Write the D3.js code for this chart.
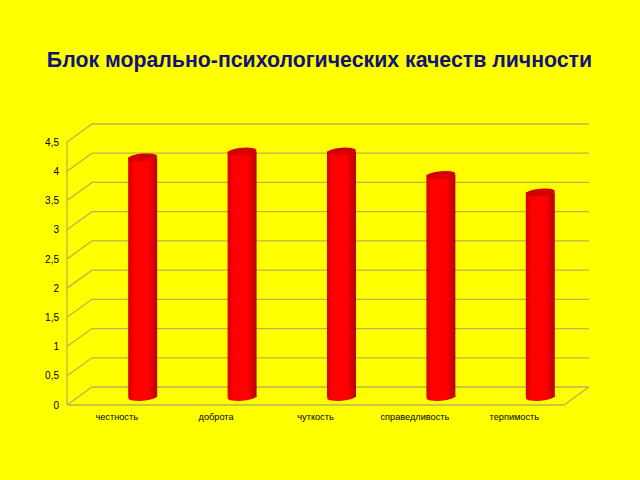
<!DOCTYPE html>
<html>
<head>
<meta charset="utf-8">
<script src="https://cdnjs.cloudflare.com/ajax/libs/d3/7.8.5/d3.min.js"></script>
<style>
html, body { margin: 0; padding: 0; background: #ffff00; }
svg { display: block; }
text { font-family: "Liberation Sans", Arial, sans-serif; }
</style>
</head>
<body>
<svg width="640" height="480"></svg>
<script>
var titleText = "Блок морально-психологических качеств личности";
var categories = ["честность", "доброта", "чуткость", "справедливость", "терпимость"];
var values = [4.1, 4.2, 4.2, 3.8, 3.5];
var yTicks = [0, 0.5, 1, 1.5, 2, 2.5, 3, 3.5, 4, 4.5];

var svg = d3.select("svg");

// 3d box: back wall is shifted from the front edge
var depthX = 25, depthY = -18;
var barShiftX = 26, barShiftY = -8;
var barWidth = 29, capRy = 3.8;

var xScale = d3.scaleBand().domain(categories).range([67, 564]);
var yScale = d3.scaleLinear().domain([0, 4.5]).range([405, 142]);

var gridColor = "#b9b54c";

// background
svg.append("rect").attr("width", 640).attr("height", 480).attr("fill", "#ffff00");

// gradient for the cylinders
var defs = svg.append("defs");
var grad = defs.append("linearGradient").attr("id", "cyl");
grad.append("stop").attr("offset", "0%").attr("stop-color", "#d60000");
grad.append("stop").attr("offset", "22%").attr("stop-color", "#ff0000");
grad.append("stop").attr("offset", "68%").attr("stop-color", "#ff0000");
grad.append("stop").attr("offset", "100%").attr("stop-color", "#b80000");

// title
svg.append("text")
    .attr("x", 319.5)
    .attr("y", 67)
    .attr("text-anchor", "middle")
    .attr("font-size", 21.3)
    .attr("font-weight", "bold")
    .attr("fill", "#12127a")
    .text(titleText);

var g = svg.append("g");

// gridlines: side wall + back wall
yTicks.forEach(function(t) {
    var y = yScale(t);
    var x0 = xScale.range()[0], x1 = xScale.range()[1];
    g.append("path")
        .attr("fill", "none")
        .attr("stroke", gridColor)
        .attr("stroke-width", 1.3)
        .attr("d", "M" + x0 + "," + y + "L" + (x0 + depthX) + "," + (y + depthY) + "L" + (x1 + depthX) + "," + (y + depthY));
});

// left edge of the side wall, and the floor
g.append("path")
    .attr("fill", "none")
    .attr("stroke", gridColor)
    .attr("stroke-width", 1.3)
    .attr("d", "M67," + yScale(0) + "L67," + yScale(4.5));
g.append("path")
    .attr("fill", "none")
    .attr("stroke", gridColor)
    .attr("stroke-width", 1.3)
    .attr("d", "M67," + yScale(0) + "L564," + yScale(0) + "L" + (564 + depthX) + "," + (yScale(0) + depthY));

// axes
var yAxis = svg.append("g")
    .attr("transform", "translate(67,0)")
    .call(d3.axisLeft(yScale).tickValues(yTicks).tickSize(0).tickPadding(8)
        .tickFormat(function(d) { return String(d).replace(".", ","); }));
yAxis.select(".domain").remove();
yAxis.selectAll("text").attr("font-size", 10).attr("fill", "#000");
yAxis.selectAll("text").style("font-family", '"Liberation Sans", Arial, sans-serif');

var xAxis = svg.append("g")
    .attr("transform", "translate(0,405)")
    .call(d3.axisBottom(xScale).tickSize(0).tickPadding(8));
xAxis.select(".domain").remove();
xAxis.selectAll("text").attr("font-size", 9.2).attr("fill", "#000");
xAxis.selectAll("text").style("font-family", '"Liberation Sans", Arial, sans-serif');

// cylinders
function cx(d) { return xScale(d) + xScale.bandwidth() / 2 + barShiftX; }

var bars = svg.append("g").selectAll("g")
    .data(categories)
    .enter().append("g");

bars.append("ellipse")
    .attr("transform", function(d) { return "rotate(-5 " + cx(d) + " " + (yScale(0) + barShiftY) + ")"; })
    .attr("cx", cx)
    .attr("cy", yScale(0) + barShiftY)
    .attr("rx", barWidth / 2)
    .attr("ry", capRy)
    .attr("fill", "url(#cyl)");

bars.append("rect")
    .attr("x", function(d) { return cx(d) - barWidth / 2; })
    .attr("y", function(d, i) { return yScale(values[i]) + barShiftY; })
    .attr("width", barWidth)
    .attr("height", function(d, i) { return yScale(0) - yScale(values[i]); })
    .attr("fill", "url(#cyl)");

bars.append("ellipse")
    .attr("transform", function(d, i) { return "rotate(-5 " + cx(d) + " " + (yScale(values[i]) + barShiftY) + ")"; })
    .attr("cx", cx)
    .attr("cy", function(d, i) { return yScale(values[i]) + barShiftY; })
    .attr("rx", barWidth / 2)
    .attr("ry", capRy)
    .attr("fill", "#d40000");
</script>
</body>
</html>
